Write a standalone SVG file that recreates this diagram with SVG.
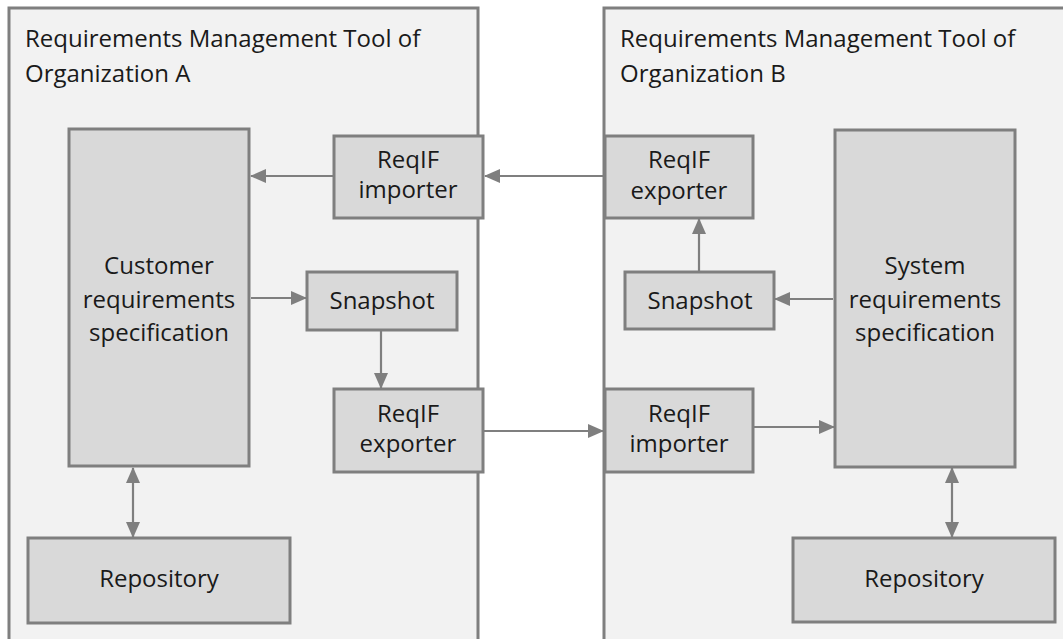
<svg xmlns="http://www.w3.org/2000/svg" width="1063" height="639" viewBox="0 0 1063 639">
<style>
.cont{fill:#f2f2f2;stroke:#7f7f7f;stroke-width:3}
.box{fill:#d9d9d9;stroke:#7f7f7f;stroke-width:3}
.t{font-family:"Open Sans","Noto Sans",sans-serif;font-size:24px;fill:#1a1a1a}
.c{text-anchor:middle}
.ln{stroke:#7f7f7f;stroke-width:2.2;fill:none}
</style>
<defs>
<marker id="ah" markerUnits="userSpaceOnUse" markerWidth="16" markerHeight="14" refX="15" refY="7" orient="auto-start-reverse" viewBox="0 0 16 14">
<path d="M0,0 L16,7 L0,14 z" fill="#7f7f7f"/>
</marker>
</defs>
<rect width="1063" height="639" fill="#ffffff"/>
<g id="orgA">
<rect class="cont" x="9" y="8" width="469" height="700"/>
<text class="t" x="25" y="47">Requirements Management Tool of</text>
<text class="t" x="25" y="82">Organization A</text>
</g>
<g id="orgB">
<rect class="cont" x="604" y="8" width="500" height="700"/>
<text class="t" x="620" y="47">Requirements Management Tool of</text>
<text class="t" x="620" y="82">Organization B</text>
</g>
<g id="crs">
<rect class="box" x="69" y="129" width="180" height="337"/>
<text class="t c" x="159" y="274">Customer</text>
<text class="t c" x="159" y="308">requirements</text>
<text class="t c" x="159" y="341">specification</text>
</g>
<g id="importerA">
<rect class="box" x="334" y="136" width="149" height="82"/>
<text class="t c" x="408" y="168">ReqIF</text>
<text class="t c" x="408" y="198">importer</text>
</g>
<g id="snapshotA">
<rect class="box" x="307" y="272" width="150" height="58"/>
<text class="t c" x="382" y="309">Snapshot</text>
</g>
<g id="exporterA">
<rect class="box" x="334" y="389" width="149" height="83"/>
<text class="t c" x="408" y="422">ReqIF</text>
<text class="t c" x="408" y="452">exporter</text>
</g>
<g id="repoA">
<rect class="box" x="28" y="538" width="262" height="85"/>
<text class="t c" x="159" y="587">Repository</text>
</g>
<g id="exporterB">
<rect class="box" x="605" y="136" width="148" height="82"/>
<text class="t c" x="679" y="168">ReqIF</text>
<text class="t c" x="679" y="199">exporter</text>
</g>
<g id="snapshotB">
<rect class="box" x="625" y="272" width="149" height="57"/>
<text class="t c" x="700" y="309">Snapshot</text>
</g>
<g id="importerB">
<rect class="box" x="605" y="389" width="148" height="83"/>
<text class="t c" x="679" y="422">ReqIF</text>
<text class="t c" x="679" y="452">importer</text>
</g>
<g id="srs">
<rect class="box" x="835" y="130" width="180" height="337"/>
<text class="t c" x="925" y="274">System</text>
<text class="t c" x="925" y="308">requirements</text>
<text class="t c" x="925" y="341">specification</text>
</g>
<g id="repoB">
<rect class="box" x="793" y="538" width="262" height="84"/>
<text class="t c" x="924" y="587">Repository</text>
</g>
<g id="connectors">
<line class="ln" x1="333" y1="176" x2="251" y2="176" marker-end="url(#ah)"/>
<line class="ln" x1="603" y1="176" x2="485" y2="176" marker-end="url(#ah)"/>
<line class="ln" x1="251" y1="298" x2="306" y2="298" marker-end="url(#ah)"/>
<line class="ln" x1="381" y1="331" x2="381" y2="388" marker-end="url(#ah)"/>
<line class="ln" x1="484" y1="431" x2="603" y2="431" marker-end="url(#ah)"/>
<line class="ln" x1="754" y1="427" x2="834" y2="427" marker-end="url(#ah)"/>
<line class="ln" x1="833" y1="299" x2="775" y2="299" marker-end="url(#ah)"/>
<line class="ln" x1="699" y1="271" x2="699" y2="219" marker-end="url(#ah)"/>
<line class="ln" x1="133" y1="468" x2="133" y2="537" marker-start="url(#ah)" marker-end="url(#ah)"/>
<line class="ln" x1="952" y1="468" x2="952" y2="537" marker-start="url(#ah)" marker-end="url(#ah)"/>
</g>
</svg>
